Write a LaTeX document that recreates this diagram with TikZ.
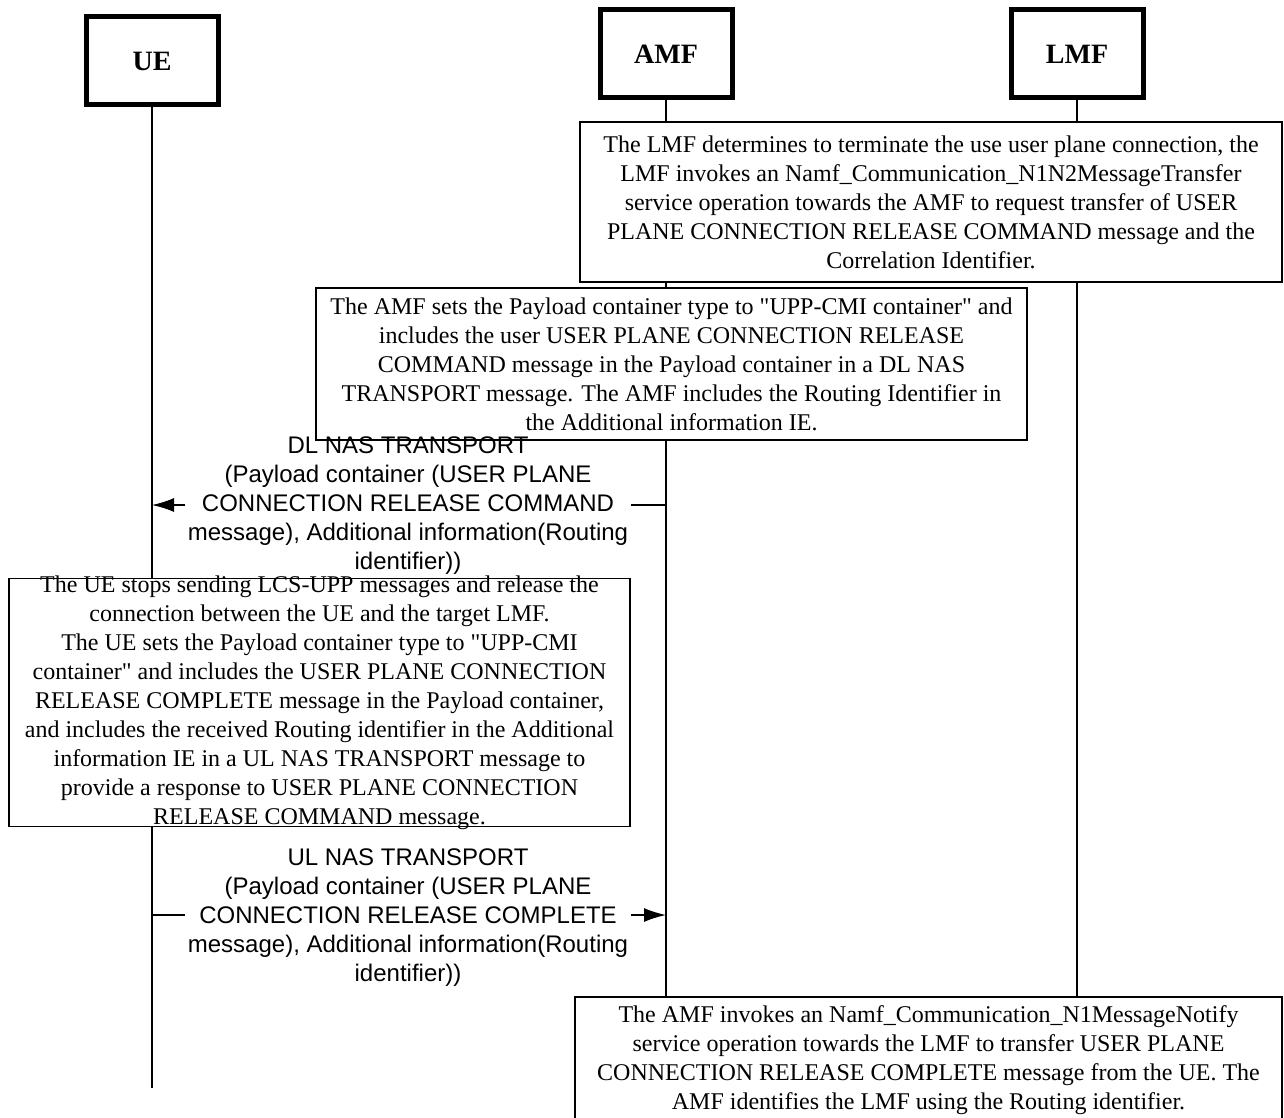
\documentclass[tikz,border=0pt]{standalone}
\usepackage{fontspec}
\setmainfont{Liberation Serif}[Ligatures=TeXOff]
\setsansfont{Liberation Sans}
\usetikzlibrary{arrows.meta}

\begin{document}
\begin{tikzpicture}[x=0.5pt,y=-0.5pt,
  entity/.style={draw, line width=2.5pt, minimum width=66pt, minimum height=44pt,
    font=\fontsize{14}{17}\selectfont\bfseries},
  lifeline/.style={line width=0.9pt},
  note/.style={draw, fill=white, line width=0.7pt, align=center, inner sep=0pt,
    font=\fontsize{12}{14.5}\selectfont},
  msg/.style={align=center, inner sep=1pt, font=\sffamily\fontsize{12}{14.5}\selectfont},
  msgline/.style={line width=0.7pt},
  msgarrow/.style={line width=0.7pt, -{Latex[length=11pt,width=7pt]}}]

\useasboundingbox (0,0) rectangle (1284,1118);

% entities
\node[entity] (ue) at (152,61) {UE};
\node[entity] (amf) at (666,54) {AMF};
\node[entity] (lmf) at (1077,54) {LMF};

\coordinate (ue-end) at (152,1088);
\coordinate (amf-end) at (666,1130);
\coordinate (lmf-end) at (1077,1130);

% lifelines
\draw[lifeline] (ue.south) -- (ue-end);
\draw[lifeline] (amf.south) -- (amf-end);
\draw[lifeline] (lmf.south) -- (lmf-end);

% notes
\node[note, minimum width=351pt, minimum height=80pt] (n1) at (931,202)
  {The LMF determines to terminate the use user plane connection, the\\
   LMF invokes an Namf\_Communication\_N1N2MessageTransfer\\
   service operation towards the AMF to request transfer of USER\\
   PLANE CONNECTION RELEASE COMMAND message and the\\
   Correlation Identifier.};

\node[note, minimum width=355.5pt, minimum height=76pt] (n2) at (671.5,364)
  {The AMF sets the Payload container type to "UPP-CMI container" and\\
   includes the user USER PLANE CONNECTION RELEASE\\
   COMMAND message in the Payload container in a DL NAS\\
   TRANSPORT message. The AMF includes the Routing Identifier in\\
   the Additional information IE.};

% DL NAS TRANSPORT
\node[msg] (dl) at (408,506)
  {DL NAS TRANSPORT\\
   (Payload container (USER PLANE\\
   CONNECTION RELEASE COMMAND\\
   message), Additional information(Routing\\
   identifier))};
\coordinate (dl-amf) at (666,505);
\coordinate (dl-ue) at (152,505);
\draw[msgline] (dl-amf) -- (dl.east |- dl-amf);
\draw[msgarrow] (dl.west |- dl-amf) -- (dl-ue);

\node[note, minimum width=310.5pt, inner ysep=-1.5pt] (n3) at (319.5,702.5)
  {The UE stops sending LCS-UPP messages and release the\\
   connection between the UE and the target LMF.\\
   The UE sets the Payload container type to "UPP-CMI\\
   container" and includes the USER PLANE CONNECTION\\
   RELEASE COMPLETE message in the Payload container,\\
   and includes the received Routing identifier in the Additional\\
   information IE in a UL NAS TRANSPORT message to\\
   provide a response to USER PLANE CONNECTION\\
   RELEASE COMMAND message.};

% UL NAS TRANSPORT
\node[msg] (ul) at (408,918)
  {UL NAS TRANSPORT\\
   (Payload container (USER PLANE\\
   CONNECTION RELEASE COMPLETE\\
   message), Additional information(Routing\\
   identifier))};
\coordinate (ul-ue) at (152,915);
\coordinate (ul-amf) at (666,915);
\draw[msgline] (ul-ue) -- (ul.west |- ul-ue);
\draw[msgarrow] (ul.east |- ul-ue) -- (ul-amf);

\node[note, minimum width=353.5pt, minimum height=63.5pt] (n4) at (928.5,1060.5)
  {The AMF invokes an Namf\_Communication\_N1MessageNotify\\
   service operation towards the LMF to transfer USER PLANE\\
   CONNECTION RELEASE COMPLETE message from the UE. The\\
   AMF identifies the LMF using the Routing identifier.};
\end{tikzpicture}
\end{document}
